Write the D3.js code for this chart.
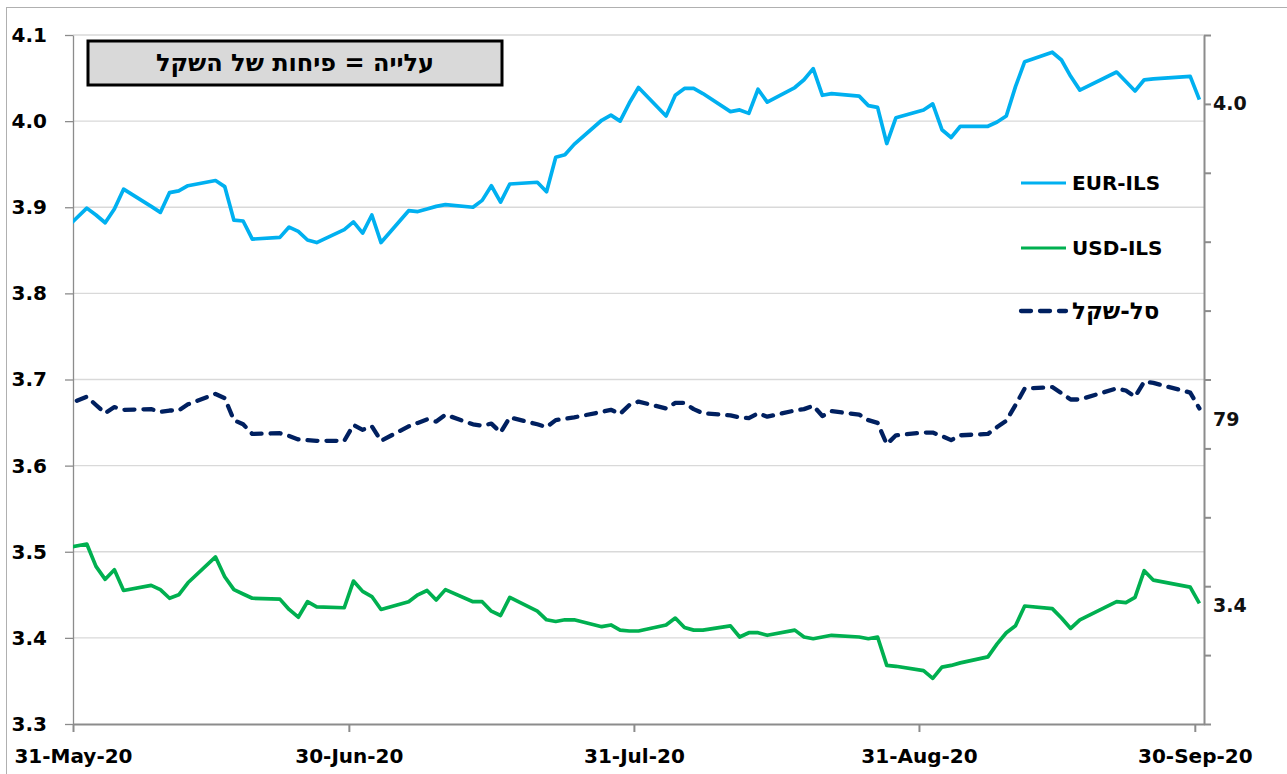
<!DOCTYPE html>
<html><head><meta charset="utf-8">
<script src="https://cdn.jsdelivr.net/npm/d3@7"></script>
<style>body{margin:0;background:#fff} svg{display:block}</style>
</head><body><svg id="c" width="1287" height="774"></svg>
<script>
// ---------- data ----------
const dates = [
 "2020-05-29",
 "2020-06-01","2020-06-02","2020-06-03","2020-06-04","2020-06-05","2020-06-08","2020-06-09","2020-06-10","2020-06-11","2020-06-12",
 "2020-06-15","2020-06-16","2020-06-17","2020-06-18","2020-06-19","2020-06-22","2020-06-23","2020-06-24","2020-06-25","2020-06-26","2020-06-29","2020-06-30",
 "2020-07-01","2020-07-02","2020-07-03","2020-07-06","2020-07-07","2020-07-08","2020-07-09","2020-07-10","2020-07-13","2020-07-14","2020-07-15","2020-07-16","2020-07-17",
 "2020-07-20","2020-07-21","2020-07-22","2020-07-23","2020-07-24","2020-07-27","2020-07-28","2020-07-29","2020-07-30","2020-07-31",
 "2020-08-03","2020-08-04","2020-08-05","2020-08-06","2020-08-07","2020-08-10","2020-08-11","2020-08-12","2020-08-13","2020-08-14",
 "2020-08-17","2020-08-18","2020-08-19","2020-08-20","2020-08-21","2020-08-24","2020-08-25","2020-08-26","2020-08-27","2020-08-28","2020-08-31",
 "2020-09-01","2020-09-02","2020-09-03","2020-09-04","2020-09-07","2020-09-08","2020-09-09","2020-09-10","2020-09-11",
 "2020-09-14","2020-09-15","2020-09-16","2020-09-17","2020-09-21","2020-09-22","2020-09-23","2020-09-24","2020-09-25","2020-09-29","2020-09-30"
];
const eurIls = [
 3.868,
 3.899,3.891,3.882,3.898,3.921,3.901,3.894,3.917,3.919,3.925,3.931,3.924,3.885,3.884,3.863,3.865,3.877,3.872,3.862,3.859,3.874,3.883,
 3.870,3.891,3.859,3.896,3.895,3.898,3.901,3.903,3.900,3.908,3.925,3.906,3.927,3.929,3.918,3.958,3.961,3.973,4.001,4.007,4.000,4.021,4.039,
 4.006,4.030,4.038,4.038,4.032,4.011,4.013,4.009,4.037,4.022,4.039,4.048,4.061,4.030,4.032,4.029,4.018,4.016,3.974,4.004,4.013,
 4.020,3.990,3.981,3.994,3.994,3.999,4.006,4.040,4.069,4.080,4.071,4.052,4.036,4.057,4.046,4.035,4.048,4.049,4.052,4.025
];
const usdIls = [
 3.503,
 3.509,3.483,3.468,3.479,3.455,3.461,3.456,3.446,3.450,3.464,3.494,3.471,3.456,3.451,3.446,3.445,3.433,3.424,3.442,3.436,3.435,3.466,
 3.454,3.448,3.433,3.442,3.450,3.455,3.444,3.456,3.442,3.442,3.431,3.426,3.447,3.431,3.421,3.419,3.421,3.421,3.413,3.415,3.409,3.408,3.408,
 3.415,3.423,3.412,3.409,3.409,3.414,3.401,3.406,3.406,3.403,3.409,3.401,3.399,3.401,3.403,3.401,3.399,3.401,3.368,3.367,3.362,
 3.353,3.366,3.368,3.371,3.378,3.393,3.406,3.414,3.437,3.434,3.423,3.411,3.421,3.442,3.441,3.447,3.478,3.467,3.459,3.440
];
const basket = [
 78.59,
 78.75,78.63,78.51,78.60,78.56,78.57,78.53,78.55,78.55,78.64,78.79,78.73,78.41,78.35,78.21,78.22,78.18,78.13,78.12,78.11,78.11,78.34,
 78.27,78.32,78.11,78.32,78.37,78.42,78.39,78.49,78.35,78.33,78.36,78.23,78.45,78.35,78.31,78.41,78.43,78.45,78.53,78.56,78.50,78.63,78.68,
 78.58,78.66,78.66,78.57,78.51,78.48,78.45,78.44,78.51,78.46,78.55,78.57,78.62,78.47,78.54,78.49,78.41,78.37,78.06,78.19,78.23,
 78.23,78.18,78.12,78.19,78.21,78.31,78.40,78.63,78.87,78.89,78.80,78.71,78.71,78.87,78.84,78.75,78.97,78.95,78.81,78.58
];
const leftTicks = [3.3,3.4,3.5,3.6,3.7,3.8,3.9,4.0,4.1];
const leftDomain = [3.3,4.1];
const rightTicks = [74,75,76,77,78,79,80,81,82,83,84];
const rightDomain = [74,84];
const xTickDates = ["2020-05-31","2020-06-30","2020-07-31","2020-08-31","2020-09-30"];
const xDomain = ["2020-05-31","2020-10-01"];
const seriesNames = ["EUR-ILS","USD-ILS","סל-שקל"];
const titleText = "עלייה = פיחות של השקל";

// ---------- layout / style ----------
const P = {l:73, r:1204, t:35, b:724};
const FONT = "'DejaVu Sans', sans-serif";
const C = {eur:"#00b0f0", usd:"#00b050", bas:"#002060", grid:"#d9d9d9", axis:"#8c8c8c"};

const parse = d3.utcParse("%Y-%m-%d");
const D = dates.map(parse);
const svg = d3.select("#c");

// outer chart frame
svg.append("rect").attr("x",6.5).attr("y",7.5).attr("width",1300).attr("height",800)
  .attr("fill","#fff").attr("stroke","#b0b0b0").attr("stroke-width",1);

const x = d3.scaleUtc().domain(xDomain.map(parse)).range([P.l,P.r]);
const yL = d3.scaleLinear().domain(leftDomain).range([P.b,P.t]);
const yR = d3.scaleLinear().domain(rightDomain).range([P.b,P.t]);
const xp = i => x(d3.utcHour.offset(D[i],12));

// gridlines
svg.append("g").selectAll("line").data(leftTicks.slice(1)).join("line")
  .attr("x1",P.l).attr("x2",P.r).attr("y1",d=>yL(d)).attr("y2",d=>yL(d))
  .attr("stroke",C.grid).attr("stroke-width",1.3);

// axes
function styleAxis(g, w){
  g.select(".domain").attr("stroke",C.axis).attr("stroke-width",w);
  g.selectAll(".tick line").attr("stroke",C.axis).attr("stroke-width",w);
  g.selectAll("text").attr("font-family",FONT).attr("font-weight","bold")
    .attr("font-size",20).attr("fill","#000");
}
const gl = svg.append("g").attr("transform",`translate(${P.l},0)`)
  .call(d3.axisLeft(yL).tickValues(leftTicks).tickSize(8).tickSizeOuter(0).tickPadding(18).tickFormat(d3.format(".1f")));
styleAxis(gl,1.3);
const gr = svg.append("g").attr("transform",`translate(${P.r},0)`)
  .call(d3.axisRight(yR).tickValues(rightTicks).tickSize(7).tickSizeOuter(0).tickFormat(""));
styleAxis(gr,2);
const gb = svg.append("g").attr("transform",`translate(0,${P.b})`)
  .call(d3.axisBottom(x).tickValues(xTickDates.map(parse)).tickSize(8).tickSizeOuter(0).tickPadding(17).tickFormat(d3.utcFormat("%-d-%b-%y")));
styleAxis(gb,2);

// clip
svg.append("clipPath").attr("id","pc").append("rect")
  .attr("x",P.l).attr("y",P.t-10).attr("width",P.r-P.l).attr("height",P.b-P.t+10);

const series = [
  {vals:usdIls, y:yL, color:C.usd, w:3.7, dash:null, fmt:d3.format(".1f"), dy:2},
  {vals:eurIls, y:yL, color:C.eur, w:3.7, dash:null, fmt:d3.format(".1f"), dy:3},
  {vals:basket, y:yR, color:C.bas, w:4.3, dash:"10,9", fmt:d3.format(".0f"), dy:11}
];
series.forEach(s=>{
  const line = d3.line().x((d,i)=>xp(i)).y(d=>s.y(d));
  svg.append("path").datum(s.vals).attr("d",line).attr("clip-path","url(#pc)")
    .attr("fill","none").attr("stroke",s.color).attr("stroke-width",s.w)
    .attr("stroke-linejoin","round").attr("stroke-linecap", s.dash?"round":"butt")
    .attr("stroke-dasharray",s.dash);
  const li = s.vals.length-1;
  svg.append("text").attr("x",P.r+9).attr("y",s.y(s.vals[li])+s.dy)
    .attr("dominant-baseline","central").attr("font-family",FONT).attr("font-weight","bold")
    .attr("font-size",19).attr("fill","#111").text(s.fmt(s.vals[li]));
});

// title box
svg.append("rect").attr("x",88).attr("y",41).attr("width",414).attr("height",44)
  .attr("fill","#d9d9d9").attr("stroke","#000").attr("stroke-width",3);
svg.append("text").attr("x",295).attr("y",63).attr("text-anchor","middle")
  .attr("dominant-baseline","central").attr("font-family",FONT)
  .attr("font-weight","bold").attr("font-size",24).attr("fill","#000").text(titleText);

// legend
const legY = [183, 248, 311];
const legStyle = [
  {color:C.eur, w:3, dash:null, fs:20},
  {color:C.usd, w:3, dash:null, fs:20},
  {color:C.bas, w:4.3, dash:"10,9", fs:23}
];
seriesNames.forEach((n,i)=>{
  svg.append("line").attr("x1",1021).attr("x2",1066).attr("y1",legY[i]).attr("y2",legY[i])
    .attr("stroke",legStyle[i].color).attr("stroke-width",legStyle[i].w)
    .attr("stroke-linecap",legStyle[i].dash?"round":"butt").attr("stroke-dasharray",legStyle[i].dash);
  svg.append("text").attr("x",1072).attr("y",legY[i]).attr("dominant-baseline","central")
    .attr("font-family",FONT).attr("font-weight","bold").attr("font-size",legStyle[i].fs).attr("fill","#000").text(n);
});
</script></body></html>
